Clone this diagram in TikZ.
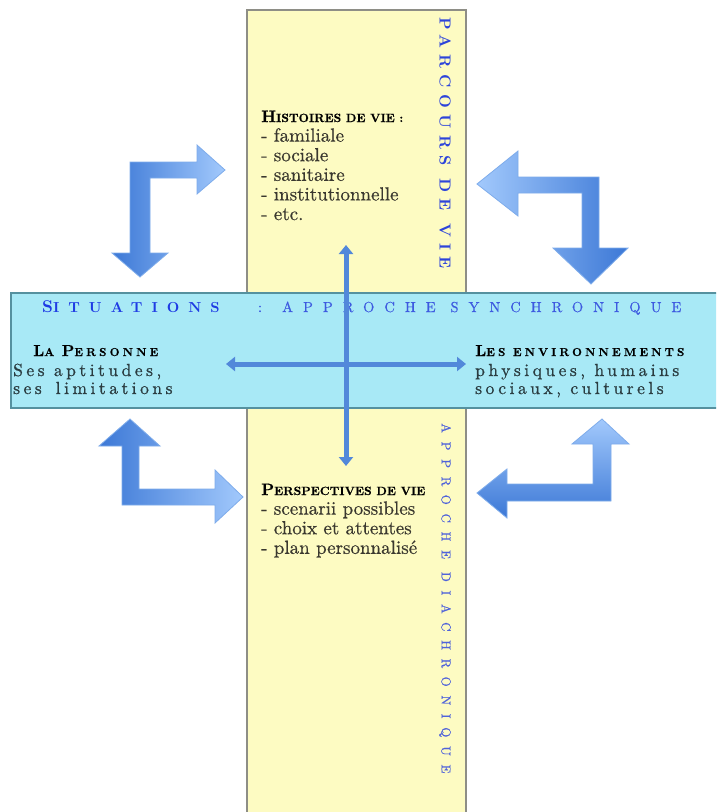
\documentclass[tikz,border=0pt]{standalone}
\usepackage{fontspec}
\setmainfont{lmroman10-regular.otf}[BoldFont=lmroman10-bold.otf, ItalicFont=lmroman10-italic.otf]
\newfontfamily\bodyfont{lmroman10-regular.otf}[FakeBold=0.6]
\newfontfamily\sidefont{lmroman10-regular.otf}[FakeBold=0.8, LetterSpace=20]
\newfontfamily\ttlfont{lmroman10-regular.otf}[FakeBold=0.5, LetterSpace=69]
\newfontfamily\vdiafont{lmroman10-regular.otf}[FakeBold=0.5, LetterSpace=67]
\newfontfamily\sitfont{lmroman10-bold.otf}[LetterSpace=62]
\newfontfamily\parcfont{lmroman10-bold.otf}[LetterSpace=40]
\newfontfamily\headfont{lmroman10-bold.otf}[LetterSpace=27, FakeBold=0.4]
\newfontfamily\hdfont{lmroman10-bold.otf}[FakeBold=0.4]
\usetikzlibrary{arrows.meta}
\definecolor{vbandfill}{HTML}{FDFBC2}
\definecolor{vbanddraw}{HTML}{8E8E86}
\definecolor{hbandfill}{HTML}{A8E9F6}
\definecolor{hbanddraw}{HTML}{55919F}
\definecolor{arrdark}{HTML}{3C78D6}
\definecolor{arrlight}{HTML}{A2C9FC}
\definecolor{arredge}{HTML}{7EACEB}
\definecolor{bodytxt}{HTML}{3A382F}
\definecolor{sidetxt}{HTML}{2A3C40}
\definecolor{ttlA}{HTML}{1E3BE4}
\definecolor{ttlB}{HTML}{3D5AE0}
\definecolor{vtxtA}{HTML}{2D44DA}
\definecolor{vtxtB}{HTML}{5063DA}
\definecolor{ctrarr}{HTML}{5288DA}
\newcommand\fakesc[4]{{\fontsize{#1}{#1}\selectfont #3}{\fontsize{#2}{#2}\selectfont #4}}
\tikzset{
  vband/.style={fill=vbandfill, draw=vbanddraw, line width=1.6pt},
  hband/.style={fill=hbandfill, draw=hbanddraw, line width=1.6pt},
  bent/.style={draw=arredge, line width=0.8pt, line join=miter},
  ctrarrow/.style={draw=ctrarr, line width=5pt, {Triangle[width=14pt,length=9pt]}-{Triangle[width=14pt,length=9pt]}},
  bodyblock/.style={anchor=north west, inner sep=0pt, align=left, text=bodytxt, font=\bodyfont\fontsize{19}{19.6}\selectfont},
  sideline/.style={anchor=base west, inner sep=0pt, text=sidetxt, font=\sidefont\fontsize{17.5}{18}\selectfont},
  sidehead/.style={anchor=base west, inner sep=0pt, text=black, font=\headfont},
  vtext/.style={anchor=west, rotate=-90, inner sep=0pt},
}
\begin{document}
\begin{tikzpicture}[x=1pt,y=-1pt]
\useasboundingbox (0,0) rectangle (716,812);
\clip (0,0) rectangle (716,812);
\fill[white] (0,0) rectangle (716,812);
% bands
\draw[vband] (247,10) rectangle (466,830);
\draw[hband] (11,293) rectangle (740,408);
% bent arrows
\shade[bent, left color=arrdark, right color=arrlight]
  (130,162) -- (197,162) -- (197,145) -- (225,170) -- (197,194) -- (197,178)
  -- (150,178) -- (150,253) -- (168,253) -- (140,277) -- (112,253) -- (130,253) -- cycle;
\shade[bent, left color=arrlight, right color=arrdark]
  (599,177) -- (518,177) -- (518,151) -- (477,184) -- (518,216) -- (518,193)
  -- (582,193) -- (582,248) -- (553,248) -- (591,284) -- (628,248) -- (599,248) -- cycle;
\shade[bent, left color=arrdark, right color=arrlight]
  (122,505) -- (122,446) -- (99,446) -- (130,419) -- (160,446) -- (139,446)
  -- (139,489) -- (215,489) -- (215,470) -- (243,497) -- (215,523) -- (215,505) -- cycle;
\shade[bent, top color=arrlight, bottom color=arrdark]
  (611,501) -- (611,444) -- (629,444) -- (602,419) -- (572,444) -- (593,444)
  -- (593,484) -- (507,484) -- (507,469) -- (477,493) -- (507,518) -- (507,501) -- cycle;
% title
\node[anchor=base west, inner sep=0pt, text=ttlA, font=\sitfont] (sit) at (42,312) {\fakesc{17}{14.5}{S}{ITUATIONS}};
\node[anchor=base, inner sep=0pt, text=ttlB, font=\ttlfont\fontsize{14.5}{14.5}\selectfont] (colon) at (260,312) {:};
\node[anchor=base west, inner sep=0pt, text=ttlB, font=\ttlfont\fontsize{14.5}{14.5}\selectfont] (appr) at (282,312) {APPROCHE SYNCHRONIQUE};
% vertical texts
\node[vtext, text=vtxtA, font=\parcfont\fontsize{16}{16}\selectfont] (parc) at (445,17) {PARCOURS DE VIE};
\node[vtext, text=vtxtB, font=\vdiafont\fontsize{13}{13}\selectfont] (diach) at (445,423) {APPROCHE DIACHRONIQUE};
% central blocks
\node[bodyblock] (hist) at (261,110.5) {{\color{black}\hdfont\fakesc{16.5}{12}{H}{ISTOIRES DE VIE :}}\\- familiale\\- sociale\\- sanitaire\\- institutionnelle\\- etc.};
\node[bodyblock] (persp) at (261,483.5) {{\color{black}\hdfont\fakesc{16.5}{12}{P}{ERSPECTIVES DE VIE}}\\- scenarii possibles\\- choix et attentes\\- plan personnalisé};
% side texts
\node[sidehead] (persA) at (33,356) {\fakesc{16}{11.5}{L}{A }\fakesc{16}{11.5}{P}{ERSONNE}};
\node[sideline] (persB) at (13,376) {Ses aptitudes,};
\node[sideline] (persC) at (13,394) {ses\hspace{14pt}limitations};
\node[sidehead] (envA) at (475,356) {\fakesc{16}{11.5}{L}{ES ENVIRONNEMENTS}};
\node[sideline] (envB) at (475,376) {physiques, humains};
\node[sideline] (envC) at (475,394) {sociaux, culturels};
% central arrows
\coordinate (vt) at (346,245);
\coordinate (vb) at (346,466);
\coordinate (hl) at (226,364);
\coordinate (hr) at (466,364);
\draw[ctrarrow] (hl) -- (hr);
\draw[ctrarrow] (vt) -- (vb);
\end{tikzpicture}
\end{document}
